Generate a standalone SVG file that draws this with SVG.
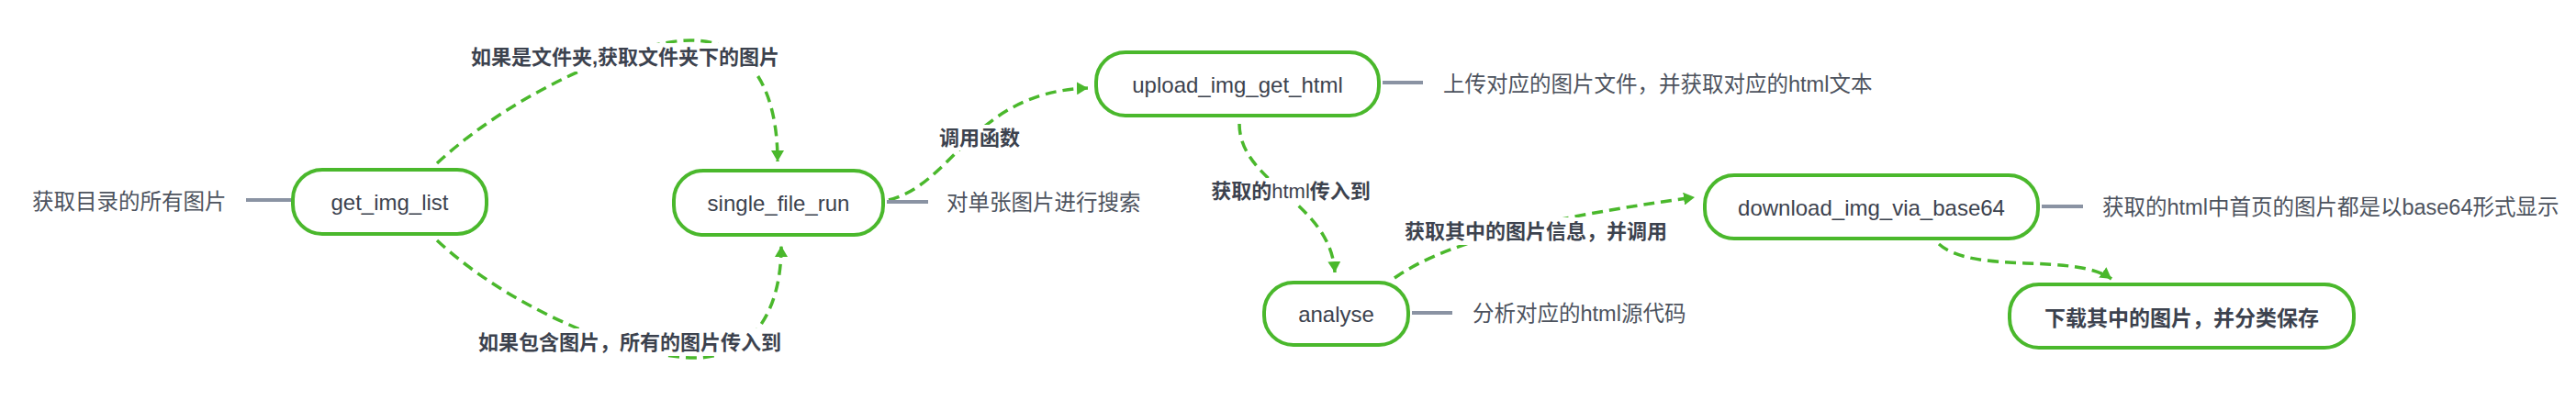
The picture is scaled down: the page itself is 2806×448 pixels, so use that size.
<svg xmlns="http://www.w3.org/2000/svg" width="2806" height="448" viewBox="0 0 2806 448">
<style>
.node{fill:#ffffff;stroke:#4ab82c;stroke-width:4}
.nt{font-family:"Liberation Sans","Noto Sans CJK SC",sans-serif;font-size:24px;fill:#3c424e;text-anchor:middle;dominant-baseline:central}
.nb{font-family:"Noto Sans CJK SC",sans-serif;font-size:23px;font-weight:bold;fill:#3c424e;text-anchor:middle;dominant-baseline:central}
.side{font-family:"Liberation Sans","Noto Sans CJK SC",sans-serif;font-size:23.5px;fill:#4d535e;dominant-baseline:central}
.tie{stroke:#8a93a3;stroke-width:4;fill:none}
.edge{fill:none;stroke:#4ab82c;stroke-width:3.5;stroke-dasharray:12 7}
.lbg{fill:#ffffff}
.el{font-family:"Liberation Sans","Noto Sans CJK SC",sans-serif;font-size:22px;font-weight:bold;fill:#3c424e;text-anchor:middle;dominant-baseline:central}
</style>
<defs>
<marker id="arr" viewBox="0 0 12 14" refX="12" refY="7" markerWidth="12" markerHeight="14" markerUnits="userSpaceOnUse" orient="auto">
<path d="M0,0 L12,7 L0,14 Z" fill="#4ab82c"/>
</marker>
</defs>
<rect width="2806" height="448" fill="#ffffff"/>

<g id="connectors">
<path class="edge" d="M476,178 C560,100 690,44 752,44 C812,44 847,90 847,176" marker-end="url(#arr)"/>
<path class="edge" d="M476,262 C560,340 690,390 757,390 C815,390 851,345 851,268" marker-end="url(#arr)"/>
<path class="edge" d="M968,218 C1040,200 1060,100 1185,96" marker-end="url(#arr)"/>
<path class="edge" d="M1350,135 C1350,200 1450,220 1454,297" marker-end="url(#arr)"/>
<path class="edge" d="M1519,303 C1580,260 1700,235 1846,215" marker-end="url(#arr)"/>
<path class="edge" d="M2112,266 C2150,300 2260,275 2300,304" marker-end="url(#arr)"/>
<path class="tie" d="M268,218 H317"/>
<path class="tie" d="M966,220 H1011"/>
<path class="tie" d="M1506,90 H1550"/>
<path class="tie" d="M1538,341 H1582"/>
<path class="tie" d="M2224,225 H2269"/>
</g>

<g id="edge-labels">
<rect class="lbg" x="514" y="47" width="334" height="31"/>
<text class="el" x="681" y="62">如果是文件夹,获取文件夹下的图片</text>
<rect class="lbg" x="519" y="358" width="334" height="30"/>
<text class="el" x="686" y="373">如果包含图片，所有的图片传入到</text>
<rect class="lbg" x="1019" y="136" width="96" height="28"/>
<text class="el" x="1067" y="150">调用函数</text>
<rect class="lbg" x="1316" y="194" width="180" height="28"/>
<text class="el" x="1406" y="208">获取的<tspan font-weight="normal">html</tspan>传入到</text>
<rect class="lbg" x="1528" y="237" width="290" height="30"/>
<text class="el" x="1673" y="252">获取其中的图片信息，并调用</text>
</g>

<g id="get_img_list">
<rect class="node" x="319" y="185" width="211" height="70" rx="32"/>
<text class="nt" x="424.5" y="220">get_img_list</text>
<text class="side" x="35" y="220">获取目录的所有图片</text>
</g>

<g id="single_file_run">
<rect class="node" x="734" y="186" width="228" height="70" rx="32"/>
<text class="nt" x="848" y="221">single_file_run</text>
<text class="side" x="1031" y="221">对单张图片进行搜索</text>
</g>

<g id="upload_img_get_html">
<rect class="node" x="1194" y="57" width="308" height="69" rx="32"/>
<text class="nt" x="1348" y="92">upload_img_get_html</text>
<text class="side" x="1572" y="92">上传对应的图片文件，并获取对应的html文本</text>
</g>

<g id="analyse">
<rect class="node" x="1377" y="308" width="157" height="68" rx="32"/>
<text class="nt" x="1455.5" y="342">analyse</text>
<text class="side" x="1604" y="342">分析对应的html源代码</text>
</g>

<g id="download_img_via_base64">
<rect class="node" x="1857" y="191" width="363" height="69" rx="32"/>
<text class="nt" x="2038.5" y="226">download_img_via_base64</text>
<text class="side" x="2290" y="226">获取的html中首页的图片都是以base64形式显示</text>
</g>

<g id="download_save">
<rect class="node" x="2189" y="310" width="375" height="69" rx="32"/>
<text class="nb" x="2376.5" y="345">下载其中的图片，并分类保存</text>
</g>
</svg>
